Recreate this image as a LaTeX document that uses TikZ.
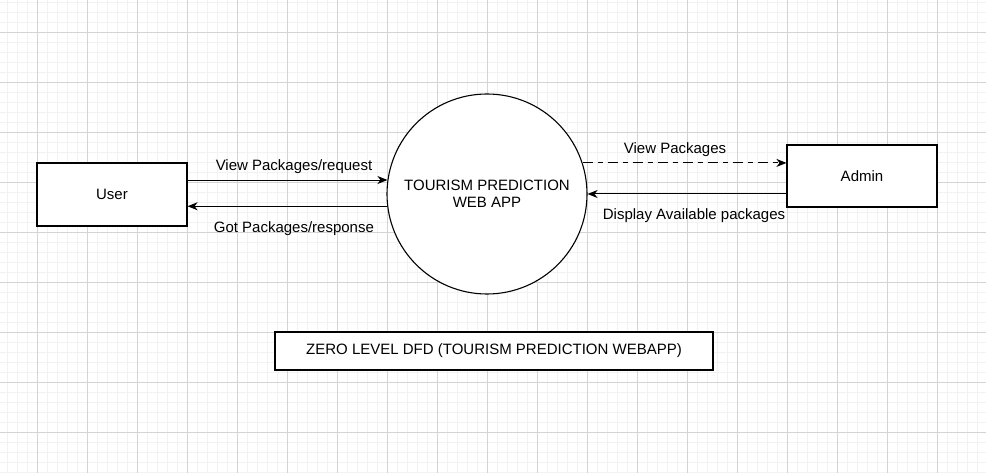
\documentclass[tikz,border=0pt]{standalone}
\usepackage{fontspec}
\setmainfont{Liberation Sans}
\usetikzlibrary{arrows.meta}

\tikzset{
  entity/.style={draw, line width=1.1pt, fill=white, minimum width=150pt, minimum height=63pt, inner sep=0pt},
  process/.style={draw, circle, line width=1.1pt, fill=white, minimum size=200pt, inner sep=0pt, align=center},
  flow/.style={line width=1pt, -{Stealth[length=10pt,width=8pt,inset=3pt]}},
  flowlabel/.style={inner sep=0pt},
}

\begin{document}
\begin{tikzpicture}[x=1pt, y=-1pt, font=\fontsize{15}{17}\selectfont]
\useasboundingbox (0,0) rectangle (986,473);
% grid
\foreach \x in {7,17,...,986}
    \draw[black!5, line width=0.7pt] (\x,0) -- (\x,473);
\foreach \y in {2,12,...,473}
    \draw[black!5, line width=0.7pt] (0,\y) -- (986,\y);
\foreach \x in {37,87,...,986}
    \draw[black!17, line width=0.8pt] (\x,0) -- (\x,473);
\foreach \y in {32,82,...,473}
    \draw[black!17, line width=0.8pt] (0,\y) -- (986,\y);
% entities and process
\node[entity] (user) at (112,194.5) {User};
\node[process] (app) at (487,194) {TOURISM PREDICTION\\WEB APP};
\node[entity, minimum height=62pt] (admin) at (862,176) {Admin};
\node[draw, line width=1.1pt, fill=white, minimum width=438pt, minimum height=38pt] (title) at (494,351)
    {ZERO LEVEL DFD (TOURISM PREDICTION WEBAPP)};
% data flows
\draw[flow] (app.172 -| user.east) -- (app.172)
    node[midway, above=6pt, xshift=6.5pt, flowlabel] {View Packages/request};
\draw[flow] (app.187.5) -- (app.187.5 -| user.east)
    node[midway, below=15pt, xshift=6.5pt, flowlabel] {Got Packages/response};
\draw[flow, dash pattern=on 10pt off 5pt on 5pt off 5pt] (app.18.7) -- (app.18.7 -| admin.west)
    node[midway, above=6pt, xshift=-9.5pt, flowlabel] {View Packages};
\draw[flow] (app.east -| admin.west) -- (app.east)
    node[midway, below=14pt, xshift=7pt, flowlabel] {Display Available packages};
\end{tikzpicture}
\end{document}
